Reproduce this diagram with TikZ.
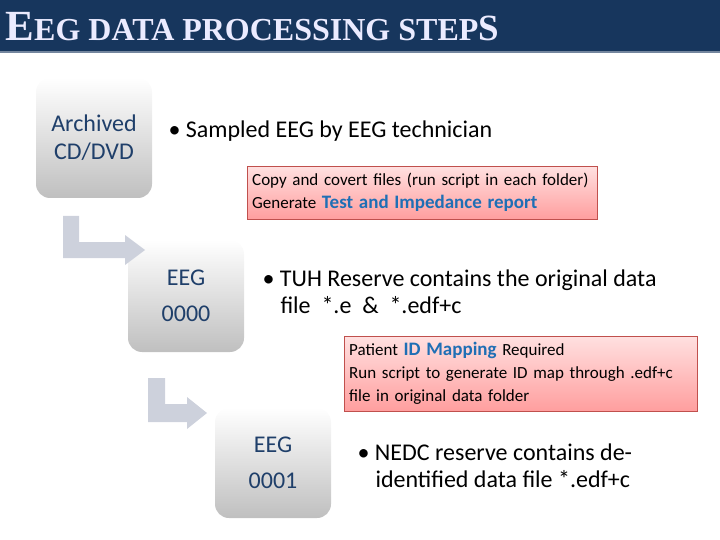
\documentclass[tikz,border=0pt]{standalone}
\usepackage{fontspec}
\setmainfont{Carlito}
\newfontfamily\titlefont{Liberation Serif}
\usetikzlibrary{positioning}
\definecolor{navy}{HTML}{17365D}
\definecolor{stepblue}{HTML}{1F3F6A}
\definecolor{linkblue}{HTML}{1F6FB5}
\definecolor{arrowgray}{HTML}{CDD1DC}
\definecolor{pinkedge}{HTML}{C0504D}
\tikzset{
  stepbox/.style={rounded corners=14pt, top color=white, bottom color=black!25,
    draw=none, minimum width=116pt, minimum height=114pt, text=stepblue,
    font=\fontsize{24}{28}\selectfont, align=center},
  notebox/.style={draw=pinkedge, top color=red!12, bottom color=red!38,
    align=left, anchor=north west, font=\fontsize{17}{23}\selectfont,
    inner xsep=5pt, inner ysep=3pt},
  bullet/.style={anchor=west, align=left, font=\fontsize{24}{27}\selectfont},
  turn/.style={fill=arrowgray, draw=none}
}
\begin{document}
\begin{tikzpicture}[x=1pt, y=-1pt]
\useasboundingbox (0,0) rectangle (720,540);
% title bar
\fill[navy] (0,0) rectangle (720,52);
\draw[navy!60!white, line width=1.5pt] (0,52) -- (720,52);
\node[anchor=west, text=blue!8!white, font=\titlefont\bfseries\fontsize{32}{34}\selectfont]
  (title) at (2,27) {{\fontsize{43}{44}\selectfont E}EG DATA PROCESSING STEP{\fontsize{37}{40}\selectfont S}};

% steps
\node[stepbox, minimum height=120pt] (archive) at (94,138) {Archived\\CD/DVD};
\node[stepbox, minimum height=112pt] (eeg0) at (186,296) {EEG\\[8pt]0000};
\node[stepbox, minimum height=110pt] (eeg1) at (273,463) {EEG\\[8pt]0001};

% descriptions
\node[bullet] (sampled) at (165,131) {\textbullet\ Sampled EEG by EEG technician};
\node[notebox, text width=340pt, minimum height=53pt] (copy) at (247,166)
  {Copy and covert files (run script in each folder)\\
   Generate {\fontsize{19}{23}\selectfont\bfseries\color{linkblue}Test and Impedance report}};
\node[bullet] (tuh) at (259,292) {\textbullet\ TUH Reserve contains the original data\\
  \hspace*{0.75em}file \ *.e \ \& \ *.edf+c};
\node[notebox, text width=343pt, minimum height=75pt] (mapping) at (344,336)
  {Patient {\fontsize{19}{23}\selectfont\bfseries\color{linkblue}ID Mapping} Required\\
   Run script to generate ID map through .edf+c\\
   file in original data folder};
\node[bullet] (nedc) at (354,466) {\textbullet\ NEDC reserve contains de-\\
  \hspace*{0.75em}identified data file *.edf+c};

% turning arrows
\fill[turn] (63,216) -- (79,216) -- (79,242) -- (125,242) -- (125,235) -- (145,250)
  -- (125,265) -- (125,258) -- (63,258) -- cycle;
\fill[turn] (148,378) -- (165,378) -- (165,404) -- (187,404) -- (187,397) -- (207,413)
  -- (187,429) -- (187,422) -- (148,422) -- cycle;
\end{tikzpicture}
\end{document}
